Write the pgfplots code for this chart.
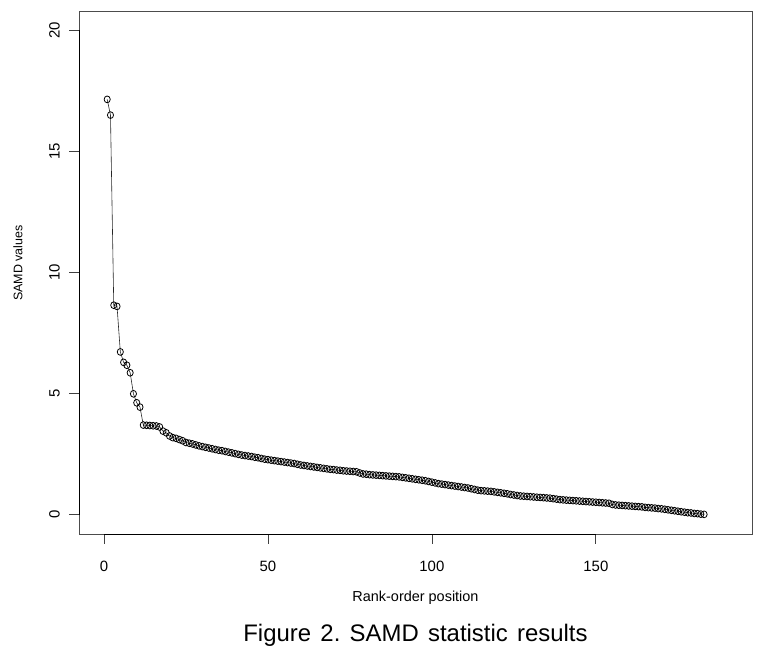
\documentclass[border=0pt]{standalone}
\usepackage{fontspec}
\setmainfont{Liberation Sans}
\usepackage{pgfplots}
\pgfplotsset{compat=1.18}
\frenchspacing

\begin{document}
\begin{tikzpicture}
\begin{axis}[
    name=main,
    scale only axis,
    width=673bp, height=523bp,
    xmin=-7.6, xmax=197.6, ymin=-0.8, ymax=20.8,
    xtick={0,50,100,150}, ytick={0,5,10,15,20},
    xtick pos=lower, ytick pos=left,
    tick align=outside,
    major tick length=9.5bp,
    tick style={black!75, line width=0.8pt},
    axis line style={black!70, line width=0.8pt},
    /pgf/number format/assume math mode=true,
    tick label style={font=\fontsize{15}{18}\selectfont},
    xticklabel style={anchor=center, yshift=-23bp},
    yticklabel style={rotate=90, anchor=center, yshift=15bp},
    clip=false,
]
% R-style axis segments
\draw[black, line width=1pt] (axis cs:0,-0.8) -- (axis cs:150,-0.8);
\draw[black, line width=1pt] (-7.6,0) -- (-7.6,20);
\addplot[black!85, line width=0.6pt, mark=o, mark size=3.4bp,
    mark options={black, line width=0.8pt, xscale=0.9}] coordinates {
(1,17.15)(2,16.5)(3,8.65)(4,8.6)(5,6.72)(6,6.29)(7,6.17)(8,5.86)(9,4.99)(10,4.62)
(11,4.44)(12,3.70)(13,3.69)(14,3.68)(15,3.67)(16,3.66)(17,3.62)(18,3.45)(19,3.38)(20,3.25)
(21,3.18)(22,3.15)(23,3.10)(24,3.05)(25,2.98)(26,2.95)(27,2.92)(28,2.88)(29,2.84)(30,2.81)
(31,2.78)(32,2.75)(33,2.72)(34,2.69)(35,2.66)(36,2.64)(37,2.61)(38,2.58)(39,2.55)(40,2.52)
(41,2.49)(42,2.46)(43,2.44)(44,2.42)(45,2.40)(46,2.37)(47,2.35)(48,2.32)(49,2.29)(50,2.27)
(51,2.25)(52,2.23)(53,2.21)(54,2.19)(55,2.17)(56,2.15)(57,2.13)(58,2.11)(59,2.08)(60,2.05)
(61,2.03)(62,2.01)(63,1.99)(64,1.97)(65,1.95)(66,1.93)(67,1.91)(68,1.89)(69,1.87)(70,1.86)
(71,1.84)(72,1.83)(73,1.81)(74,1.80)(75,1.79)(76,1.78)(77,1.77)(78,1.72)(79,1.68)(80,1.67)
(81,1.65)(82,1.64)(83,1.63)(84,1.62)(85,1.61)(86,1.60)(87,1.59)(88,1.58)(89,1.57)(90,1.56)
(91,1.54)(92,1.52)(93,1.50)(94,1.48)(95,1.46)(96,1.44)(97,1.42)(98,1.40)(99,1.37)(100,1.34)
(101,1.31)(102,1.28)(103,1.26)(104,1.24)(105,1.22)(106,1.20)(107,1.18)(108,1.16)(109,1.14)(110,1.12)
(111,1.10)(112,1.07)(113,1.04)(114,1.01)(115,0.99)(116,0.98)(117,0.97)(118,0.96)(119,0.94)(120,0.92)
(121,0.90)(122,0.88)(123,0.86)(124,0.83)(125,0.81)(126,0.79)(127,0.77)(128,0.76)(129,0.75)(130,0.74)
(131,0.73)(132,0.72)(133,0.71)(134,0.70)(135,0.69)(136,0.68)(137,0.66)(138,0.64)(139,0.62)(140,0.61)
(141,0.60)(142,0.59)(143,0.58)(144,0.57)(145,0.56)(146,0.55)(147,0.54)(148,0.53)(149,0.52)(150,0.51)
(151,0.50)(152,0.49)(153,0.48)(154,0.47)(155,0.42)(156,0.40)(157,0.39)(158,0.38)(159,0.37)(160,0.36)
(161,0.35)(162,0.34)(163,0.33)(164,0.32)(165,0.30)(166,0.29)(167,0.28)(168,0.27)(169,0.25)(170,0.24)
(171,0.22)(172,0.20)(173,0.18)(174,0.16)(175,0.14)(176,0.12)(177,0.10)(178,0.08)(179,0.07)(180,0.05)
(181,0.04)(182,0.02)(183,0.01)
};
\node[rotate=90, font=\fontsize{12.5}{15}\selectfont] at ([xshift=-61bp]rel axis cs:0,0.518) {SAMD values};
\node[font=\fontsize{14.5}{17}\selectfont] at ([yshift=-64bp]rel axis cs:0.5,0) {Rank-order position};
\node[font=\fontsize{24}{28}\selectfont] at ([yshift=-101bp]rel axis cs:0.5,0)
    {\spaceskip=0.39em Figure 2. SAMD statistic results};
\end{axis}
\path ([shift={(-79bp,-122bp)}]main.south west) rectangle ([shift={(20bp,11bp)}]main.north east);
\end{tikzpicture}
\end{document}
